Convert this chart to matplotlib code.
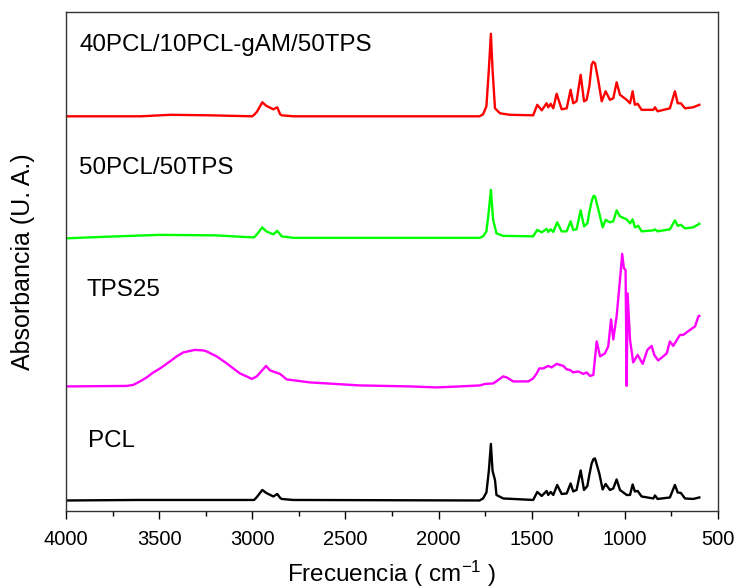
import matplotlib
matplotlib.use("Agg")
import matplotlib.pyplot as plt
from matplotlib.ticker import MultipleLocator

plt.rcParams['font.family'] = ['Liberation Sans', 'DejaVu Sans']
plt.rcParams['mathtext.default'] = 'regular'

# FTIR spectra, stacked (wavenumber in cm-1, absorbance in arbitrary units incl. offset)
pcl_w = [4000, 3600, 3200, 3000, 2990, 2975, 2946, 2925, 2887, 2866, 2850, 2842, 2780,
         1780, 1761, 1743, 1730, 1719, 1710, 1697, 1689, 1653, 1492, 1470, 1446, 1420,
         1411, 1398, 1384, 1363, 1339, 1312, 1291, 1277, 1259, 1237, 1219, 1201, 1190, 1178,
         1168, 1160, 1137, 1119, 1103, 1080, 1062, 1044, 1026, 990, 972, 958, 946, 931, 910,
         847, 838, 824, 758, 731, 716, 699, 677, 633, 600]
pcl_a = [2.1, 2.2, 2.2, 2.2, 2.2, 2.8, 4.2, 3.6, 2.9, 3.4, 2.6, 2.4, 2.2,
         2.1, 2.5, 3.7, 8.0, 13.4, 8.0, 6.2, 3.2, 2.5, 2.2, 3.8, 3.0, 4.0,
         3.2, 3.8, 3.2, 5.2, 3.4, 3.5, 5.5, 3.9, 4.2, 8.1, 4.2, 5.0, 7.3, 9.5,
         10.4, 10.5, 7.5, 4.3, 5.4, 4.2, 4.5, 6.3, 4.2, 3.2, 3.2, 5.3, 3.9, 4.0, 2.9,
         2.5, 3.1, 2.4, 2.7, 5.2, 3.7, 3.6, 2.5, 2.4, 2.7]

tps_w = [4000, 3674, 3639, 3603, 3567, 3531, 3495, 3442, 3406, 3370, 3308, 3263, 3245,
         3191, 3137, 3102, 3066, 3030, 3003, 2976, 2926, 2905,
         2851, 2815, 2690, 2422, 2153, 2010, 1885, 1778, 1751, 1706, 1679, 1653, 1634,
         1599, 1518, 1492, 1473, 1459, 1438, 1411, 1393, 1366, 1330, 1312, 1295, 1277,
         1250, 1223, 1205, 1187, 1169, 1151, 1133, 1107, 1089, 1074, 1062, 1044, 1026,
         1014, 1005, 996, 990, 985, 972, 955, 931, 904, 879, 856, 842, 821, 794, 775,
         758, 740, 704, 686, 650, 623, 605, 600]
tps_a = [24.9, 25.0, 25.2, 25.9, 26.7, 27.7, 28.5, 29.9, 30.9, 31.7, 32.2, 32.1, 31.9,
         30.9, 29.5, 28.5, 27.5, 26.9, 26.4, 26.9, 29.0, 28.1,
         27.4, 26.3, 25.7, 25.1, 24.9, 24.7, 24.9, 25.1, 25.4, 25.5, 26.2, 26.9, 26.7,
         25.9, 25.9, 26.5, 27.5, 28.5, 28.5, 29.0, 28.7, 29.4, 29.0, 28.3, 28.2, 27.7,
         27.9, 27.4, 27.7, 27.0, 27.2, 33.9, 30.9, 31.5, 32.9, 38.3, 34.3, 38.9, 46.2,
         51.4, 48.5, 48.2, 25.0, 43.5, 34.2, 29.7, 31.2, 29.4, 32.2, 33.0, 31.2, 30.1, 30.9, 31.5,
         33.9, 33.0, 35.2, 35.2, 36.2, 36.9, 38.9, 39.0]

blend_w = [4000, 3800, 3500, 3200, 3000, 2990, 2975, 2946, 2925, 2887, 2866, 2842, 2780,
           1780, 1761, 1743, 1730, 1719, 1707, 1689, 1653, 1492, 1470, 1446, 1420, 1411,
           1398, 1384, 1363, 1339, 1312, 1291, 1277, 1259, 1237, 1219, 1201, 1190, 1178, 1168,
           1160, 1137, 1119, 1103, 1080, 1062, 1044, 1026, 990, 972, 958, 946, 928, 910, 847,
           838, 824, 758, 731, 716, 699, 677, 633, 600]
blend_a = [54.5, 54.8, 55.2, 55.1, 54.7, 54.7, 55.3, 56.7, 55.9, 55.3, 56.0, 54.9, 54.6,
           54.6, 54.9, 55.9, 60.0, 64.2, 58.2, 55.5, 55.0, 54.9, 56.2, 55.7, 56.4, 55.8,
           56.3, 55.8, 57.7, 55.9, 55.9, 57.9, 56.2, 56.3, 60.1, 56.9, 57.5, 59.8, 61.9, 63.0,
           62.9, 59.5, 56.7, 58.2, 57.7, 57.9, 60.1, 58.9, 58.3, 57.5, 58.3, 56.7, 57.0, 55.9, 56.1,
           56.3, 55.9, 56.3, 58.1, 57.0, 57.2, 56.5, 56.7, 57.4]

gam_w = [4000, 3600, 3440, 3230, 3000, 2990, 2975, 2946, 2925, 2887, 2866, 2850, 2842,
         2780, 1780, 1761, 1743, 1730, 1719, 1710, 1697, 1670, 1617, 1492, 1470, 1446,
         1420, 1411, 1398, 1384, 1366, 1339, 1312, 1291, 1277, 1259, 1237, 1219, 1205,
         1190, 1178, 1170, 1160, 1143, 1124, 1103, 1080, 1062, 1044, 1026, 990, 972, 958, 946, 931,
         910, 847, 838, 824, 758, 731, 716, 699, 677, 633, 600]
gam_a = [78.9, 78.9, 79.2, 79.1, 78.9, 79.2, 79.8, 81.7, 81.0, 80.3, 80.7, 79.3, 79.1,
         78.9, 78.9, 79.3, 80.9, 88.2, 95.4, 88.2, 80.5, 79.5, 79.2, 79.1, 81.2, 80.1,
         81.5, 80.7, 81.4, 80.5, 83.4, 80.3, 80.5, 84.2, 81.5, 81.9, 87.2, 81.9, 82.2,
         85.0, 89.2, 89.8, 89.5, 86.2, 81.9, 83.9, 82.2, 82.5, 85.7, 83.2, 82.2, 81.5, 83.9, 81.2, 81.4,
         80.2, 80.2, 80.7, 79.9, 80.5, 83.9, 81.5, 81.5, 80.5, 80.7, 81.2]

names = ['PCL', 'TPS25', '50PCL/50TPS', '40PCL/10PCL-gAM/50TPS']
colors = ['black', '#ff00ff', '#00ff00', 'red']
# where each name is written (wavenumber, absorbance at text baseline)
name_x = [3882, 3889, 3930, 3930]
name_y = [12.8, 43.0, 67.4, 91.9]

fig = plt.figure(figsize=(7.35, 5.88), dpi=100)
ax = fig.add_axes([0.0898, 0.131, 0.887, 0.849])

spectra = [(pcl_w, pcl_a), (tps_w, tps_a), (blend_w, blend_a), (gam_w, gam_a)]
for (w, a), c in zip(spectra, colors):
    ax.plot(w, a, color=c, lw=1.7, solid_joinstyle='round')

for n, x, y in zip(names, name_x, name_y):
    ax.text(x, y, n, fontsize=17.4, va='baseline', ha='left')

ax.set_xlim(4000, 500)
ax.set_ylim(0, 99.8)
ax.xaxis.set_major_locator(MultipleLocator(500))
ax.xaxis.set_minor_locator(MultipleLocator(250))
ax.tick_params(axis='x', which='major', direction='out', length=6, width=1, labelsize=14.5, pad=8)
ax.tick_params(axis='x', which='minor', direction='out', length=3.5, width=1)
ax.set_yticks([])
for s in ax.spines.values():
    s.set_color('#333333')
    s.set_linewidth(1)

ax.set_xlabel('Frecuencia ( cm$^{-1}$ )', fontsize=17.5, labelpad=7)
ax.set_ylabel('Absorbancia (U. A.)', fontsize=18, labelpad=22)

fig.savefig('out.png', dpi=100)
